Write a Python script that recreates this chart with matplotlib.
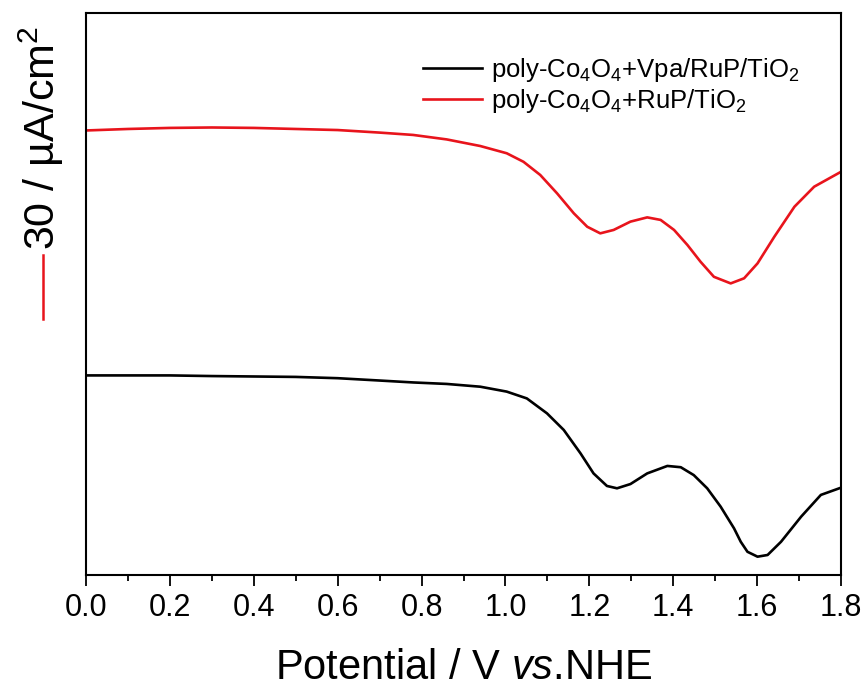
import matplotlib
matplotlib.use("Agg")
import matplotlib.pyplot as plt
from matplotlib.lines import Line2D

plt.rcParams['font.family'] = ['Liberation Sans', 'DejaVu Sans']
plt.rcParams['mathtext.fontset'] = 'custom'
plt.rcParams['mathtext.rm'] = 'Liberation Sans'
plt.rcParams['mathtext.it'] = 'Liberation Sans:italic'
plt.rcParams['mathtext.default'] = 'regular'

# potential (V vs. NHE) and current density (uA/cm^2, offset traces)
pot_red = [0.0, 0.1, 0.2, 0.3, 0.4, 0.5, 0.6, 0.70, 0.78, 0.86, 0.94, 1.003,
           1.043, 1.083, 1.123, 1.163, 1.195, 1.226, 1.258, 1.298, 1.338,
           1.370, 1.402, 1.434, 1.465, 1.497, 1.537, 1.569, 1.601, 1.641,
           1.689, 1.736, 1.8]
j_red = [208.7, 209.4, 209.9, 210.1, 209.9, 209.4, 208.9, 207.7, 206.6, 204.5,
         201.4, 198.0, 194.0, 187.8, 179.2, 169.8, 163.5, 160.4, 162.0, 165.9,
         167.9, 166.7, 162.0, 154.9, 147.1, 140.0, 136.9, 139.3, 146.3, 158.8,
         172.9, 182.3, 189.3]

pot_black = [0.0, 0.1, 0.2, 0.3, 0.4, 0.5, 0.6, 0.70, 0.78, 0.86, 0.94, 1.003,
             1.051, 1.099, 1.139, 1.179, 1.210, 1.242, 1.266, 1.298, 1.338,
             1.386, 1.418, 1.449, 1.481, 1.513, 1.545, 1.561, 1.577, 1.601,
             1.625, 1.657, 1.705, 1.752, 1.8]
j_black = [93.7, 93.7, 93.7, 93.4, 93.2, 93.0, 92.4, 91.3, 90.4, 89.7, 88.4,
           86.1, 82.9, 75.9, 68.1, 57.1, 47.7, 41.8, 40.7, 42.7, 47.7, 51.2,
           50.6, 46.9, 40.7, 32.1, 21.9, 15.6, 10.9, 8.6, 9.4, 15.6, 27.4,
           37.6, 41.0]

labels = ['poly-Co$_4$O$_4$+Vpa/RuP/TiO$_2$', 'poly-Co$_4$O$_4$+RuP/TiO$_2$']
scale_bar = 30  # uA/cm^2

W, H = 867, 687
fig = plt.figure(figsize=(W / 100, H / 100), dpi=100)
ax = fig.add_axes([86 / W, 1 - 575 / H, (841 - 86) / W, (575 - 13) / H])

ax.plot(pot_black, j_black, color='black', lw=1.9, label=labels[0])
ax.plot(pot_red, j_red, color='#e8141c', lw=1.9, label=labels[1])

ax.set_xlim(0, 1.8)
ax.set_ylim(0, (575 - 13) / 2.13)
ax.set_xticks([0.0, 0.2, 0.4, 0.6, 0.8, 1.0, 1.2, 1.4, 1.6, 1.8])
ax.set_xticks([0.1, 0.3, 0.5, 0.7, 0.9, 1.1, 1.3, 1.5, 1.7], minor=True)
ax.set_yticks([])
ax.tick_params(axis='x', which='major', direction='out', length=8, width=1.3,
               labelsize=22, pad=5)
ax.tick_params(axis='x', which='minor', direction='out', length=4.5, width=1.3)
for s in ax.spines.values():
    s.set_linewidth(1.5)

ax.set_xlabel('Potential / V $\\it{vs}$.NHE', fontsize=30, labelpad=18)

# y label with red scale bar
fig.text(41 / W, 1 - 250 / H, '30 / µA/cm$^2$', rotation=90, fontsize=31,
         ha='center', va='bottom')
bar_px = scale_bar * 2.13
fig.add_artist(Line2D([43 / W, 43 / W], [1 - 255 / H, 1 - (255 + bar_px) / H],
                      color='#e8141c', lw=1.8, transform=fig.transFigure))

ax.legend(loc='upper left', bbox_to_anchor=(423 / W, 1 - 56 / H),
          bbox_transform=fig.transFigure, frameon=False, fontsize=18.5,
          handlelength=2.3, handletextpad=0.35, borderpad=0, borderaxespad=0,
          labelspacing=0.1)

fig.savefig('out.png', dpi=100)
